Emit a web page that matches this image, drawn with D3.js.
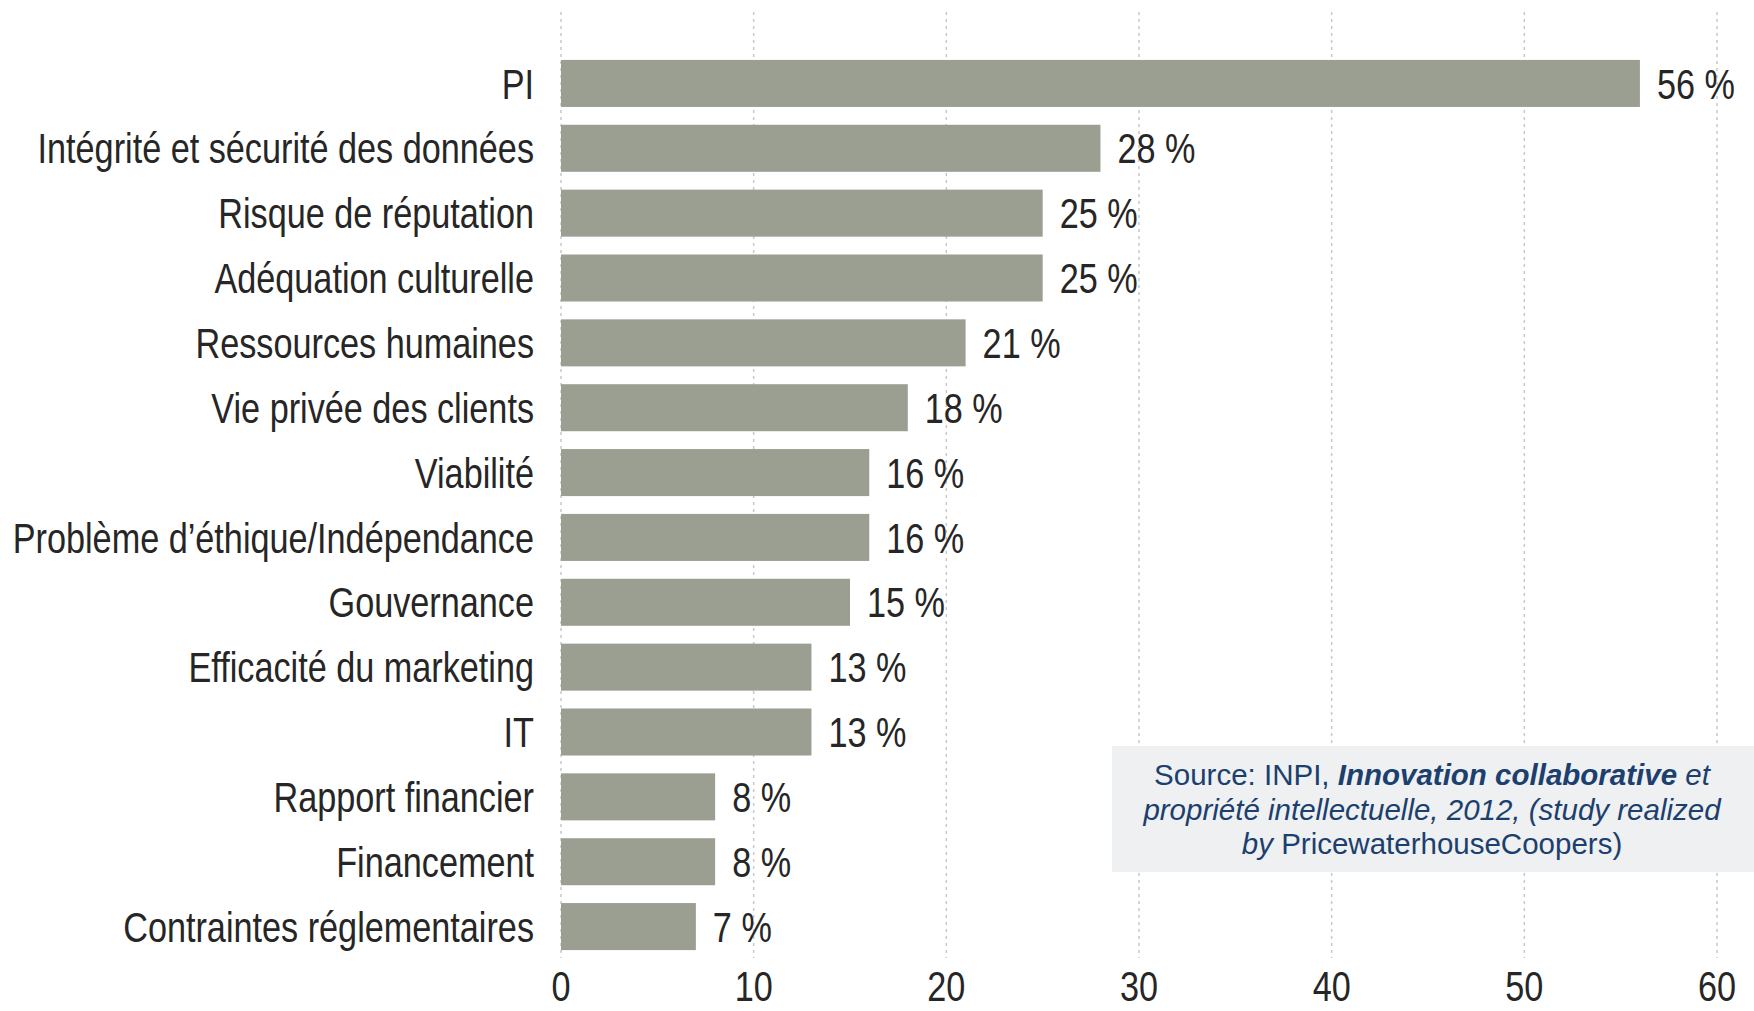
<!DOCTYPE html>
<html>
<head>
<meta charset="utf-8">
<script src="https://cdn.jsdelivr.net/npm/d3@7"></script>
<style>
  body { margin: 0; background: #fff; }
  .lbl { font-family: "Liberation Sans", Arial, sans-serif; fill: #262626; }
</style>
</head>
<body>
<div id="container"></div>
<script>
var categories = [
  "PI",
  "Intégrité et sécurité des données",
  "Risque de réputation",
  "Adéquation culturelle",
  "Ressources humaines",
  "Vie privée des clients",
  "Viabilité",
  "Problème d’éthique/Indépendance",
  "Gouvernance",
  "Efficacité du marketing",
  "IT",
  "Rapport financier",
  "Financement",
  "Contraintes réglementaires"
];
var values = [56, 28, 25, 25, 21, 18, 16, 16, 15, 13, 13, 8, 8, 7];
var ticks = [0, 10, 20, 30, 40, 50, 60];

var width = 1754, height = 1011;
var svg = d3.select('#container').append('svg')
  .attr('width', width)
  .attr('height', height);

var x = d3.scaleLinear().domain([0, 60]).range([561, 1717]);
var y = d3.scaleBand().domain(categories).range([51, 959])
  .paddingInner(0.275).paddingOuter(0.1375);

// condensed look: squeeze the text horizontally
var squeeze = 0.815;
var fs = 42;

// dotted grid
svg.append('g').selectAll('line')
  .data(ticks)
  .enter().append('line')
  .attr('x1', function(d) { return x(d); })
  .attr('x2', function(d) { return x(d); })
  .attr('y1', 12)
  .attr('y2', 958)
  .attr('stroke', '#c8c8c8')
  .attr('stroke-width', 1.5)
  .attr('stroke-dasharray', '3,4');

svg.append('g').selectAll('rect')
  .data(values)
  .enter().append('rect')
  .attr('x', x(0))
  .attr('y', function(d, i) { return y(categories[i]); })
  .attr('width', function(d) { return x(d) - x(0); })
  .attr('height', y.bandwidth())
  .attr('fill', '#9a9f91');

function squeezed(px, py) {
  return 'translate(' + px + ',' + py + ') scale(' + squeeze + ',1)';
}

svg.append('g').selectAll('text')
  .data(categories)
  .enter().append('text')
  .attr('class', 'lbl')
  .attr('transform', function(d) { return squeezed(x(0) - 27, y(d) + y.bandwidth() / 2); })
  .attr('dy', '0.36em')
  .attr('text-anchor', 'end')
  .attr('font-size', fs)
  .text(function(d) { return d; });

svg.append('g').selectAll('text')
  .data(values)
  .enter().append('text')
  .attr('class', 'lbl')
  .attr('transform', function(d, i) { return squeezed(x(d) + 17, y(categories[i]) + y.bandwidth() / 2); })
  .attr('dy', '0.36em')
  .attr('font-size', fs)
  .text(function(d) { return d + ' %'; });

svg.append('g').selectAll('text')
  .data(ticks)
  .enter().append('text')
  .attr('class', 'lbl')
  .attr('transform', function(d) { return squeezed(x(d), 986); })
  .attr('dy', '0.36em')
  .attr('text-anchor', 'middle')
  .attr('font-size', fs)
  .text(function(d) { return d; });

// source box
var box = svg.append('g');
box.append('rect')
  .attr('x', 1112).attr('y', 746)
  .attr('width', 642).attr('height', 126)
  .attr('fill', '#eef0f2');
var src = box.append('text')
  .attr('font-family', '"Liberation Sans", Arial, sans-serif')
  .attr('font-size', 29.5)
  .attr('fill', '#1c3f6e')
  .attr('text-anchor', 'middle');
var l1 = src.append('tspan').attr('x', 1432).attr('y', 785);
l1.append('tspan').text('Source: INPI, ');
l1.append('tspan').attr('font-weight', 'bold').attr('font-style', 'italic').text('Innovation collaborative');
l1.append('tspan').attr('font-style', 'italic').text(' et');
src.append('tspan').attr('x', 1432).attr('y', 820)
  .attr('font-style', 'italic').text('propriété intellectuelle, 2012, (study realized');
var l3 = src.append('tspan').attr('x', 1432).attr('y', 854);
l3.append('tspan').attr('font-style', 'italic').text('by');
l3.append('tspan').text(' PricewaterhouseCoopers)');
</script>
</body>
</html>
